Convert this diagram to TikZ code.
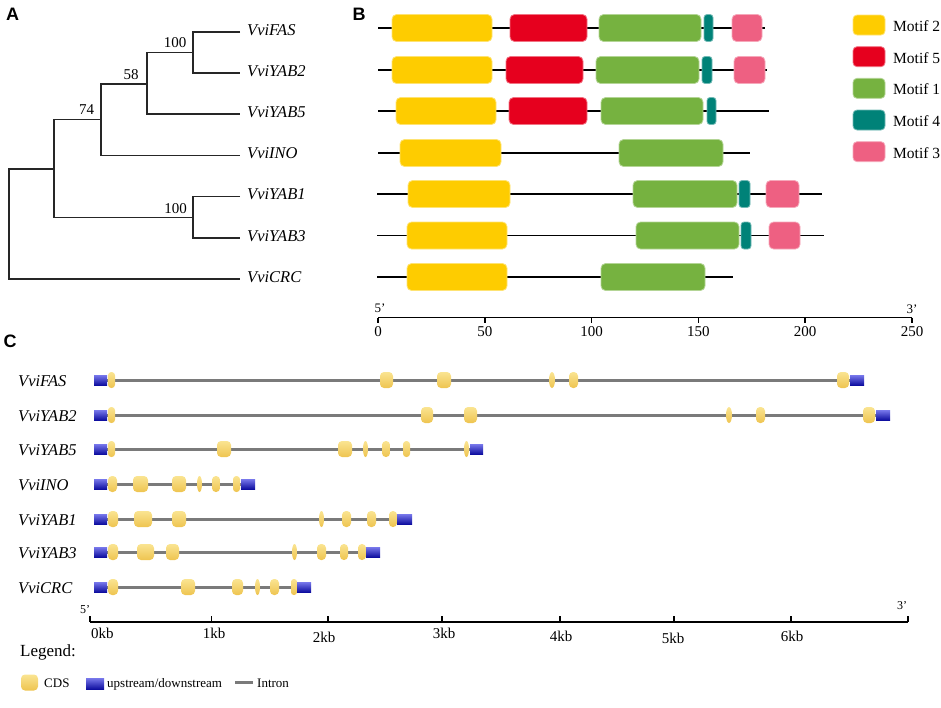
\documentclass[tikz,border=0pt]{standalone}
\usepackage{fontspec}
\setmainfont{Liberation Serif}
\newfontfamily\arialf{Liberation Sans}
\newcommand\fs[1]{\fontsize{#1}{#1}\selectfont}
\definecolor{cY}{RGB}{254,204,0}
\definecolor{cR}{RGB}{230,0,30}
\definecolor{cG}{RGB}{118,178,64}
\definecolor{cT}{RGB}{0,130,120}
\definecolor{cP}{RGB}{238,96,130}
\definecolor{cdsT}{RGB}{250,228,145}
\definecolor{cdsB}{RGB}{238,196,80}
\definecolor{upT}{RGB}{120,120,235}
\definecolor{upB}{RGB}{15,15,160}
\definecolor{intr}{RGB}{122,122,122}
\newcommand\generow[5]{%
  \draw[intron] (107,#1) -- (#2,#1);
  \foreach \a/\b in {#4} {\pgfmathsetmacro\rr{min(4,(\b-\a)/2-0.2)}%
    \path[cds, rounded corners=\rr pt] (\a,#1-8) rectangle (\b,#1+8);}
  \foreach \a/\b in {#5} {\path[cds] ({(\a+\b)/2},#1) ellipse [x radius={(\b-\a)/2}, y radius=8];}
  \path[utr] (94,#1-5) rectangle (107,#1+5);
  \path[utr] (#2,#1-5) rectangle (#3,#1+5);
}
\begin{document}
\begin{tikzpicture}[x=1pt,y=-1pt,
  tree/.style={line width=1.2pt, draw=black!85},
  lab/.style={font=\fs{16.5}\itshape, anchor=west, inner sep=0pt},
  boot/.style={font=\fs{15}, inner sep=0pt},
  panel/.style={font=\arialf\bfseries\fs{18}, inner sep=0pt},
  mline/.style={line width=1.6pt, draw=black},
  axisl/.style={line width=1.6pt, draw=black},
  num/.style={font=\fs{15}, inner sep=0pt},
  prime/.style={font=\fs{13}, inner sep=0pt},
  cds/.style={top color=cdsT, bottom color=cdsB, draw=none},
  utr/.style={top color=upT, bottom color=upB, draw=none},
  intron/.style={line width=3pt, draw=intr},
  leg/.style={font=\fs{13}, anchor=base west, inner sep=0pt}]
\useasboundingbox (0,0) rectangle (941,707);

% ---------------- Panel A ----------------
\node[panel] (pA) at (12.5,14) {A};
\coordinate (tFAS) at (240,32);
\coordinate (tYAB2) at (240,73);
\coordinate (tYAB5) at (240,114);
\coordinate (tINO) at (240,155.5);
\coordinate (tYAB1) at (240,196.5);
\coordinate (tYAB3) at (240,238);
\coordinate (tCRC) at (240,279);
\coordinate (c1) at (193,52.5);
\coordinate (c2) at (147,84);
\coordinate (c3) at (101,119.5);
\coordinate (c4) at (54,169);
\coordinate (c5) at (193,217.5);
\coordinate (root) at (9,224);
\draw[tree] (tFAS) -| (c1) |- (tYAB2);
\draw[tree] (c1) -| (c2) |- (tYAB5);
\draw[tree] (c2) -| (c3) |- (tINO);
\draw[tree] (tYAB1) -| (c5) |- (tYAB3);
\draw[tree] (c3) -| (c4) |- (c5);
\draw[tree] (c4) -| (root) |- (tCRC);
\node[lab] (aFAS) at (247,30) {VviFAS};
\node[lab] (aYAB2) at (247,71) {VviYAB2};
\node[lab] (aYAB5) at (247,112) {VviYAB5};
\node[lab] (aINO) at (247,153.5) {VviINO};
\node[lab] (aYAB1) at (247,194.5) {VviYAB1};
\node[lab] (aYAB3) at (247,236) {VviYAB3};
\node[lab] (aCRC) at (247,277) {VviCRC};
\node[boot] (b1) at (175,43) {100};
\node[boot] (b2) at (131,75) {58};
\node[boot] (b3) at (86.5,110) {74};
\node[boot] (b4) at (175.5,209) {100};

% ---------------- Panel B ----------------
\node[panel] (pB) at (359,14) {B};
\foreach \y/\a/\b in {28/378/765, 70/378/767, 111/378/769, 153/378/750,
                      194/377/822, 235.5/377/824, 277/377/733}
  \draw[mline] (\a,\y) -- (\b,\y);
\foreach \c/\a/\b/\y/\r in {
  cY/392/492/28/4.5, cR/510/587/28/4.5, cG/599/701/28/4.5, cT/704/713/28/3, cP/732/762/28/4.5,
  cY/392/492/70/4.5, cR/506/583/70/4.5, cG/596/699/70/4.5, cT/702/712/70/3, cP/734/765/70/4.5,
  cY/396/496/111/4.5, cR/509/587/111/4.5, cG/601/703/111/4.5, cT/707/716/111/3,
  cY/400/501/153/4.5, cG/619/723/153/4.5,
  cY/408/510/194/4.5, cG/633/737/194/4.5, cT/739/750/194/3, cP/766/799/194/4.5,
  cY/407/507/235.5/4.5, cG/636/739/235.5/4.5, cT/741/751/235.5/3, cP/769/800/235.5/4.5,
  cY/407/507/277/4.5, cG/601/705/277/4.5}
  \path[fill=\c, draw=\c!55!white, line width=0.8pt, rounded corners=\r pt]
    (\a,\y-13.5) rectangle (\b,\y+13.5);
% legend B
\foreach \c/\y/\t in {cY/25/2, cR/56.7/5, cG/88.3/1, cT/120/4, cP/151.7/3}{
  \path[fill=\c, draw=\c!55!white, line width=0.8pt, rounded corners=4pt]
    (853,\y-10) rectangle (885,\y+10);
  \node[font=\fs{15.5}, anchor=west, inner sep=0pt] (m\t) at (893,\y+1) {Motif \t};
}
% axis B
\draw[axisl] (378,317.5) -- (912,317.5);
\foreach \i/\t in {0/0,1/50,2/100,3/150,4/200,5/250}{
  \draw[axisl] (378+\i*106.8,317.5) -- ++(0,5.5);
  \node[num] (bx\i) at (378+\i*106.8,332) {\t};
}
\node[prime] (b5p) at (380,308) {5'};
\node[prime] (b3p) at (912,309) {3'};

% ---------------- Panel C ----------------
\node[panel] (pC) at (10,341) {C};
\node[lab] (gFAS) at (18,381) {VviFAS};
\node[lab] (gYAB2) at (18,416) {VviYAB2};
\node[lab] (gYAB5) at (18,450) {VviYAB5};
\node[lab] (gINO) at (18,485) {VviINO};
\node[lab] (gYAB1) at (18,520) {VviYAB1};
\node[lab] (gYAB3) at (18,553) {VviYAB3};
\node[lab] (gCRC) at (18,588) {VviCRC};

\generow{380}{850}{864}{108/115, 380/393, 437/451, 569/578, 837/849}{549/555}
\generow{415}{876}{890}{108/115, 421/433, 464/477, 756/765, 863/875}{726/732}
\generow{449}{470}{483}{108/115, 217/231, 338/352, 382/390, 403/410}{363/368, 464/469}
\generow{484}{241}{255}{108/117, 133/148, 172/186, 212/220, 233/240}{197/202}
\generow{519}{397}{412}{108/118, 134/152, 172/186, 342/351, 367/376, 389/397}{319/324}
\generow{552}{366}{380}{108/118, 137/154, 166/179, 317/326, 340/348, 358/366}{292/297}
\generow{587}{297}{311}{108/118, 181/195, 232/243, 270/279, 291/297}{255/260}

% axis C
\draw[axisl] (90,621.7) -- (908,621.7);
\foreach \x in {90,211.3,327.7,442,560,674,791,908}
  \draw[axisl] (\x,621.7) -- ++(0,-6);
\node[num, anchor=west] (k0) at (91,633) {0kb};
\node[num] (k1) at (214,633) {1kb};
\node[num] (k2) at (324,637) {2kb};
\node[num] (k3) at (444,633) {3kb};
\node[num] (k4) at (561,636) {4kb};
\node[num] (k5) at (673,638) {5kb};
\node[num] (k6) at (792,636) {6kb};
\node[font=\fs{12}, inner sep=0pt] (c5p) at (85,610) {5'};
\node[font=\fs{12}, inner sep=0pt] (c3p) at (902,606) {3'};

% legend C
\node[font=\fs{17}, anchor=base west, inner sep=0pt] (legt) at (20,656.5) {Legend:};
\path[cds, rounded corners=4pt] (21,674.5) rectangle (38,690.5);
\node[leg] (lcds) at (44,687) {CDS};
\path[utr] (86,678) rectangle (104,689);
\node[leg] (lutr) at (107,687) {upstream/downstream};
\coordinate (li1) at (235,682);
\coordinate (li2) at (253,682);
\draw[intron] (li1) -- (li2);
\node[leg] (lint) at (257,687) {Intron};
\end{tikzpicture}
\end{document}
